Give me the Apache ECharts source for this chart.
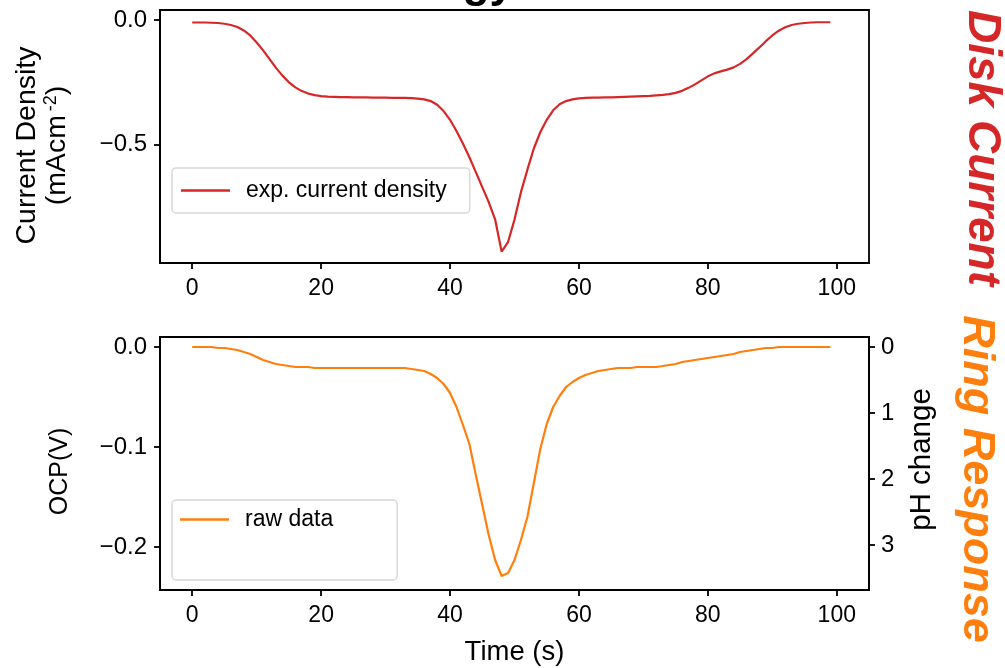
<!DOCTYPE html>
<html>
<head>
<meta charset="utf-8">
<script src="https://cdn.jsdelivr.net/npm/echarts@6/dist/echarts.min.js"></script>
<style>
html,body{margin:0;padding:0;background:#fff;}
#chart{width:1005px;height:668px;}
</style>
</head>
<body>
<div id="chart"></div>
<script>
// ---- data ----
const time = [0,1,2,3,4,5,6,7,8,9,10,11,12,13,14,15,16,17,18,19,20,21,22,23,24,25,26,27,28,29,
  30,31,32,33,34,35,36,37,38,39,40,41,42,43,44,45,46,47,48,49,50,51,52,53,54,55,56,57,58,59,
  60,61,62,63,64,65,66,67,68,69,70,71,72,73,74,75,76,77,78,79,80,81,82,83,84,85,86,87,88,89,
  90,91,92,93,94,95,96,97,98,99];
const currentDensity = [
  -0.010,-0.010,-0.010,-0.011,-0.012,-0.015,-0.020,-0.028,-0.042,-0.062,
  -0.090,-0.122,-0.157,-0.192,-0.223,-0.250,-0.270,-0.285,-0.295,-0.301,
  -0.305,-0.307,-0.308,-0.309,-0.309,-0.310,-0.310,-0.310,-0.311,-0.311,
  -0.311,-0.312,-0.312,-0.312,-0.313,-0.315,-0.318,-0.325,-0.340,-0.365,
  -0.400,-0.445,-0.495,-0.550,-0.610,-0.670,-0.730,-0.800,-0.928,-0.890,
  -0.800,-0.690,-0.600,-0.515,-0.450,-0.400,-0.362,-0.338,-0.325,-0.318,
  -0.314,-0.312,-0.311,-0.311,-0.310,-0.310,-0.309,-0.308,-0.307,-0.306,
  -0.305,-0.304,-0.302,-0.300,-0.297,-0.292,-0.284,-0.272,-0.258,-0.242,
  -0.226,-0.214,-0.206,-0.199,-0.190,-0.176,-0.157,-0.134,-0.110,-0.085,
  -0.062,-0.043,-0.029,-0.020,-0.015,-0.012,-0.010,-0.009,-0.009,-0.009];
const ocp = [
  0.000,0.000,0.000,0.000,-0.001,-0.001,-0.002,-0.003,-0.005,-0.007,
  -0.010,-0.013,-0.015,-0.017,-0.018,-0.019,-0.020,-0.020,-0.020,-0.021,
  -0.021,-0.021,-0.021,-0.021,-0.021,-0.021,-0.021,-0.021,-0.021,-0.021,
  -0.021,-0.021,-0.021,-0.021,-0.022,-0.023,-0.024,-0.027,-0.031,-0.037,
  -0.046,-0.060,-0.078,-0.097,-0.128,-0.158,-0.188,-0.213,-0.229,-0.226,
  -0.213,-0.193,-0.170,-0.136,-0.102,-0.077,-0.060,-0.049,-0.040,-0.035,
  -0.031,-0.028,-0.026,-0.024,-0.023,-0.022,-0.021,-0.021,-0.021,-0.020,
  -0.020,-0.020,-0.020,-0.019,-0.018,-0.017,-0.015,-0.014,-0.013,-0.012,
  -0.011,-0.010,-0.009,-0.008,-0.007,-0.005,-0.004,-0.003,-0.002,-0.001,
  -0.001,0.000,0.000,0.000,0.000,0.000,0.000,0.000,0.000,0.000];
const xTicks = [0,20,40,60,80,100];
const topYTicks = [-0.5,0.0];
const ocpTicks = [-0.2,-0.1,0.0];
const phTicks = [0,1,2,3];
const seriesNames = ['exp. current density','raw data'];
const sideLabels = ['Disk Current','Ring Response'];
const axisTitles = {cd1:'Current Density', cd2:'(mAcm', cdSup:'-2', ocp:'OCP(V)', ph:'pH change', time:'Time (s)'};
const titleText = 'Energy';

// ---- styling ----
const FONT = "'Liberation Sans', Arial, sans-serif";
const RED = '#d62728';
const ORANGE = '#ff7f0e';
const fmtNum = (d) => v => (v < 0 ? '\u2212' : '') + Math.abs(v).toFixed(d);

function xAxisCfg(gi, withName) {
  return {
    type:'value', gridIndex:gi, min:-5, max:105,
    axisLine:{show:true, onZero:false, lineStyle:{color:'#000', width:1.8}},
    axisTick:{show:true, inside:false, length:6, lineStyle:{color:'#000', width:1.8}, customValues:xTicks},
    axisLabel:{show:true, margin:14, color:'#000', fontSize:23, fontFamily:FONT, customValues:xTicks},
    splitLine:{show:false},
    name: withName ? axisTitles.time : '',
    nameLocation:'middle', nameGap:48,
    nameTextStyle:{color:'#000', fontSize:27.5, fontFamily:FONT}
  };
}

const x = time;
const cdData = x.map((t,i)=>[t, currentDensity[i]]);
const ocpData = x.map((t,i)=>[t, ocp[i]]);

const legendBase = {
  icon:'rect', itemWidth:49, itemHeight:2.4, itemGap:10,
  borderColor:'#d8d8d8', borderWidth:1.5, borderRadius:4, backgroundColor:'#fff',
  textStyle:{color:'#000', fontSize:23, fontFamily:FONT, padding:[0,0,0,11]}
};

const option = {
  backgroundColor:'#fff',
  animation:false,
  grid:[
    {left:160, top:10, width:709, height:253, show:true, borderColor:'#000', borderWidth:1.8, backgroundColor:'transparent'},
    {left:160, top:337, width:709, height:253, show:true, borderColor:'#000', borderWidth:1.8, backgroundColor:'transparent'}
  ],
  xAxis:[ xAxisCfg(0,false), xAxisCfg(1,true) ],
  yAxis:[
    {
      type:'value', gridIndex:0, min:-0.974, max:0.04,
      axisLine:{show:true, onZero:false, lineStyle:{color:'#000', width:1.8}},
      axisTick:{show:true, length:6, lineStyle:{color:'#000', width:1.8}, customValues:topYTicks},
      axisLabel:{margin:13, color:'#000', fontSize:24, fontFamily:FONT, customValues:topYTicks, formatter:fmtNum(1)},
      splitLine:{show:false},
      name:'{a|'+axisTitles.cd1+'}\n{a|'+axisTitles.cd2+'}{s|'+axisTitles.cdSup+'}{a|)}',
      nameLocation:'middle', nameRotate:90, nameGap:88,
      nameTextStyle:{color:'#000', fontFamily:FONT, align:'center', padding:[0,18,0,0],
        rich:{a:{fontSize:28.5, fontFamily:FONT, color:'#000', lineHeight:30},
              s:{fontSize:18, fontFamily:FONT, color:'#000', verticalAlign:'top', lineHeight:30, padding:[0,0,0,4]}}}
    },
    {
      type:'value', gridIndex:1, min:-0.243, max:0.01,
      axisLine:{show:true, onZero:false, lineStyle:{color:'#000', width:1.8}},
      axisTick:{show:true, length:6, lineStyle:{color:'#000', width:1.8}, customValues:ocpTicks},
      axisLabel:{margin:13, color:'#000', fontSize:24, fontFamily:FONT, customValues:ocpTicks, formatter:fmtNum(1)},
      splitLine:{show:false},
      name:axisTitles.ocp, nameLocation:'middle', nameRotate:90, nameGap:87,
      nameTextStyle:{color:'#000', fontSize:25, fontFamily:FONT, padding:[0,16,0,0]}
    },
    {
      type:'value', gridIndex:1, position:'right', inverse:true, min:-0.152, max:3.68,
      axisLine:{show:true, onZero:false, lineStyle:{color:'#000', width:1.8}},
      axisTick:{show:true, length:6, lineStyle:{color:'#000', width:1.8}, customValues:phTicks},
      axisLabel:{margin:12, color:'#000', fontSize:24, fontFamily:FONT, customValues:phTicks, formatter:v=>String(v)},
      splitLine:{show:false},
      name:axisTitles.ph, nameLocation:'middle', nameRotate:90, nameGap:38,
      nameTextStyle:{color:'#000', fontSize:29.5, fontFamily:FONT, padding:[0,0,0,8]}
    }
  ],
  legend:[
    Object.assign({}, legendBase, {data:[seriesNames[0]], left:172, top:168, padding:[11,23,11,9]}),
    Object.assign({}, legendBase, {data:[seriesNames[1]], left:172, top:500, padding:[8,64,49,8]})
  ],
  series:[
    {name:seriesNames[0], type:'line', xAxisIndex:0, yAxisIndex:0, data:cdData, symbol:'none',
     lineStyle:{color:RED, width:2.2}, itemStyle:{color:RED}},
    {name:seriesNames[1], type:'line', xAxisIndex:1, yAxisIndex:1, data:ocpData, symbol:'none',
     lineStyle:{color:ORANGE, width:2.2}, itemStyle:{color:ORANGE}}
  ],
  graphic:[
    {type:'text', x:982, y:148, rotation:-Math.PI/2,
     style:{text:sideLabels[0], fill:RED, font:"italic bold 46px 'Liberation Sans', Arial, sans-serif", textAlign:'center', textVerticalAlign:'middle'}},
    {type:'text', x:976, y:479, rotation:-Math.PI/2,
     style:{text:sideLabels[1], fill:ORANGE, font:"italic bold 45px 'Liberation Sans', Arial, sans-serif", textAlign:'center', textVerticalAlign:'middle'}},
    {type:'text', x:514, y:7,
     style:{text:titleText, fill:'#000', font:"bold 44px 'Liberation Sans', Arial, sans-serif", textAlign:'right', textVerticalAlign:'bottom'}}
  ]
};

const chart = echarts.init(document.getElementById('chart'), null, {renderer:'canvas'});
chart.setOption(option);
</script>
</body>
</html>
